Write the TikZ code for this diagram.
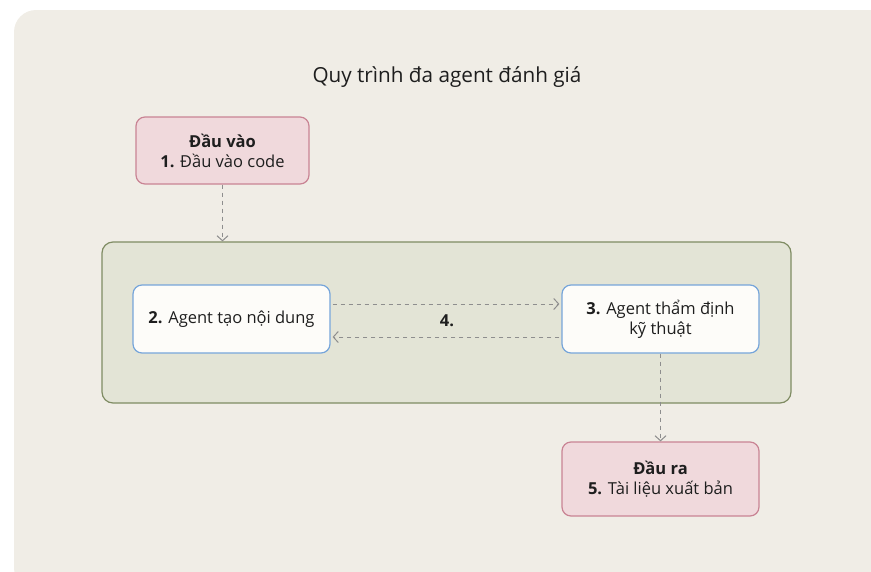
\documentclass[tikz,border=0pt]{standalone}
\usepackage{fontspec}
\setmainfont{Open Sans}
\usetikzlibrary{arrows.meta}
\definecolor{cardbg}{HTML}{F0EDE6}
\definecolor{pinkfill}{HTML}{F0D9DC}
\definecolor{pinkline}{HTML}{C98494}
\definecolor{greenfill}{HTML}{E3E4D6}
\definecolor{greenline}{HTML}{7F8C63}
\definecolor{bluefill}{HTML}{FDFCF9}
\definecolor{blueline}{HTML}{76A5DA}
\definecolor{arrowgray}{HTML}{8E8E8E}
\definecolor{inkdark}{HTML}{1E1E1E}
\tikzset{
  x=1pt, y=-1pt,
  box/.style={rounded corners=9pt, line width=1.2pt, align=center,
    font=\fontsize{16.5}{20}\selectfont, text=inkdark, inner sep=0pt},
  iobox/.style={box, fill=pinkfill, draw=pinkline},
  agentbox/.style={box, fill=bluefill, draw=blueline},
  flow/.style={draw=arrowgray, line width=1pt, dash pattern=on 4.5pt off 3.5pt,
    -{Straight Barb[length=5pt,width=11pt,line width=1pt]}},
}
\begin{document}
\begin{tikzpicture}
  \useasboundingbox (0,0) rectangle (871,571);
  % card
  \fill[cardbg, rounded corners=22pt] (14,10) rectangle (895,590);
  % title
  \node[font=\fontsize{20.7}{24}\selectfont, text=inkdark] (title) at (447,77) {Quy trình đa agent đánh giá};
  % group container
  \node[draw=greenline, fill=greenfill, line width=1.2pt, rounded corners=11pt,
        minimum width=689pt, minimum height=161pt, inner sep=0pt] (group) at (446.5,322.5) {};
  % nodes
  \node[iobox, minimum width=173pt, minimum height=67pt] (in) at (222.5,150.5)
    {\textbf{Đầu vào}\\\textbf{1.} Đầu vào code};
  \node[agentbox, minimum width=197pt, minimum height=68pt] (gen) at (231.5,319)
    {\textbf{2.} Agent tạo nội dung};
  \node[agentbox, minimum width=197pt, minimum height=68pt] (rev) at (660.5,319)
    {\textbf{3.} Agent thẩm định\\kỹ thuật};
  \node[iobox, minimum width=197pt, minimum height=74pt] (out) at (660.5,479)
    {\textbf{Đầu ra}\\\textbf{5.} Tài liệu xuất bản};
  % connectors
  \draw[flow] (in.south) -- (group.north -| in.south);
  \draw[flow] ([xshift=2pt]gen.east |- 0,304) -- ([xshift=-2pt]rev.west |- 0,304);
  \draw[flow] ([xshift=-2pt]rev.west |- 0,337) -- ([xshift=2pt]gen.east |- 0,337);
  \node[font=\fontsize{16.5}{18}\selectfont\bfseries, text=inkdark] (step4) at (447,321) {4.};
  \draw[flow] (rev.south) -- (out.north);
\end{tikzpicture}
\end{document}
